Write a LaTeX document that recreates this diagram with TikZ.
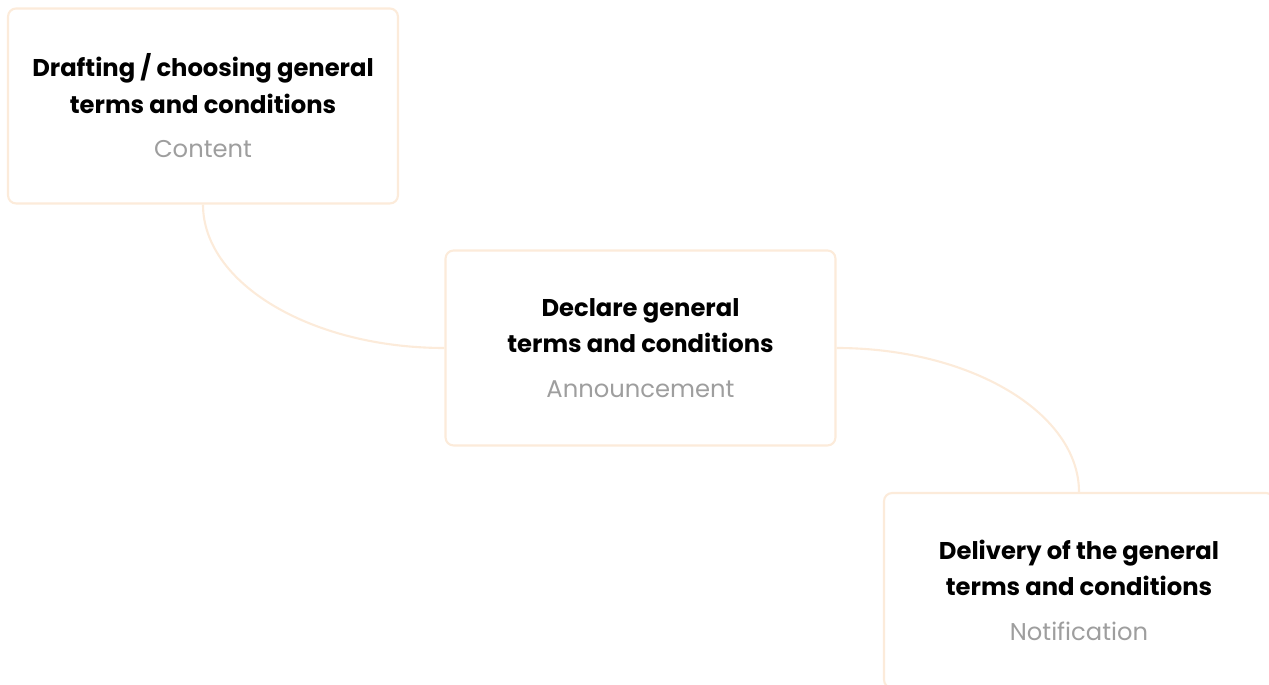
\documentclass[tikz,border=0pt]{standalone}
\usepackage{fontspec}
\setmainfont{Poppins}
\usetikzlibrary{positioning}

\definecolor{cardline}{HTML}{FCEBDA}
\definecolor{subgray}{HTML}{9E9E9E}

\begin{document}
\begin{tikzpicture}[x=0.02cm, y=-0.02cm,
    card/.style={draw=cardline, line width=1.2pt, rounded corners=1.6mm, fill=white,
        minimum width=7.8cm, minimum height=3.9cm, align=center, inner sep=0pt,
        font=\fontsize{13.8}{20.5}\selectfont},
    link/.style={draw=cardline, line width=1.2pt}]
    \path[use as bounding box] (0,0) rectangle (1269,685);
    \clip (0,0) rectangle (1269,685);

    % the three cards
    \node[card] (draft) at (203,106) {\textbf{Drafting / choosing general}\\\textbf{terms and conditions}\\[5pt]\textcolor{subgray}{Content}};
    \node[card] (declare) at (640.5,348) {\textbf{Declare general}\\\textbf{terms and conditions}\\[5pt]\textcolor{subgray}{Announcement}};
    \node[card] (deliver) at (1079,590.5) {\textbf{Delivery of the general}\\\textbf{terms and conditions}\\[5pt]\textcolor{subgray}{Notification}};

    % curved links
    \draw[link] (draft.south) .. controls +(0,79) and +(-133,0) .. (declare.west);
    \draw[link] (declare.east) .. controls +(134,0) and +(0,-79) .. (deliver.north);
\end{tikzpicture}
\end{document}
